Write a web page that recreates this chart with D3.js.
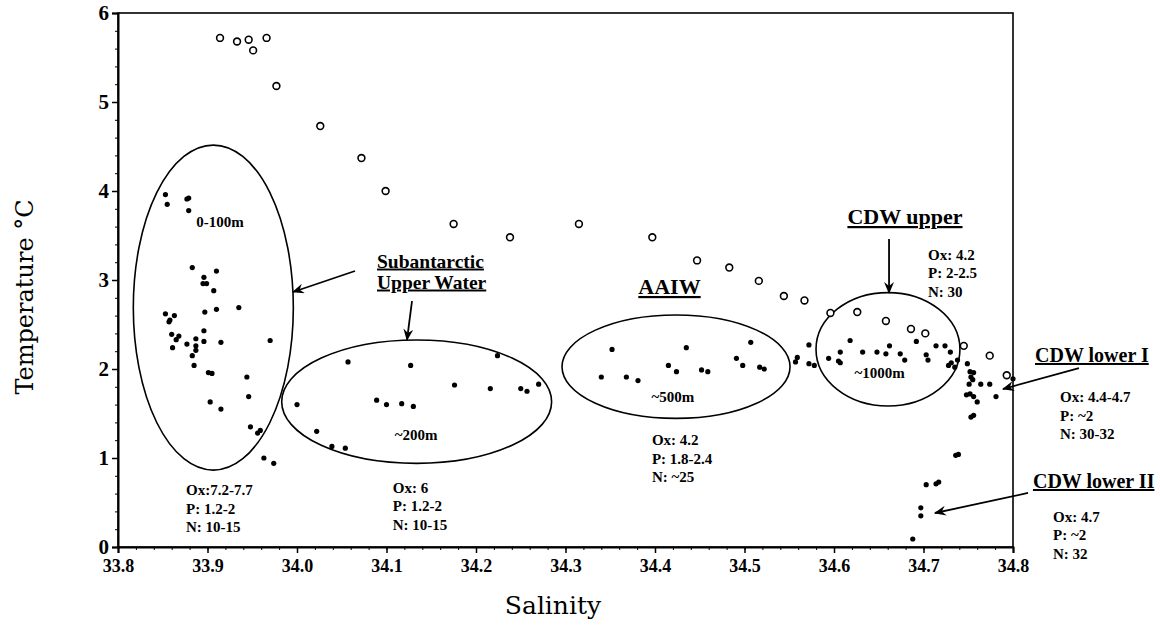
<!DOCTYPE html>
<html lang="en">
<head>
    <meta charset="UTF-8">
    <title>T-S diagram</title>
    <script src="https://d3js.org/d3.v7.min.js"></script>
    <style>
        body { margin: 0; background: #fff; }
        svg { display: block; }
        .tick text { font-family: "Liberation Serif", serif; font-weight: bold; fill: #000; }
        .axis path, .axis line { stroke: #000; }
        .axis-title { font-family: "DejaVu Serif", serif; font-size: 24px; fill: #000; }
        .mass-title { font-family: "Liberation Serif", serif; font-weight: bold; text-decoration: underline; fill: #000; }
        .note { font-family: "Liberation Serif", serif; font-weight: bold; font-size: 15px; fill: #000; }
        .ring { fill: none; stroke: #000; stroke-width: 1.6px; }
        .pointer { stroke: #000; stroke-width: 1.8px; }
    </style>
</head>
<body>
    <svg id="chart" width="1160" height="636"></svg>
    <script>
        // salinity, temperature pairs
        const openCircles = [
            [33.914, 5.72], [33.933, 5.68], [33.946, 5.70], [33.951, 5.58], [33.966, 5.72],
            [33.977, 5.18], [34.026, 4.73], [34.072, 4.37], [34.099, 4.00], [34.175, 3.63],
            [34.238, 3.48], [34.315, 3.63], [34.397, 3.48], [34.447, 3.22], [34.483, 3.14],
            [34.516, 2.99], [34.544, 2.82], [34.567, 2.77], [34.596, 2.63], [34.626, 2.64],
            [34.658, 2.54], [34.686, 2.45], [34.702, 2.40], [34.745, 2.26], [34.774, 2.15],
            [34.793, 1.93]
        ];
        const surfaceDots = [
            [33.853, 3.96], [33.855, 3.85], [33.877, 3.91], [33.879, 3.92], [33.879, 3.78],
            [33.883, 3.14], [33.896, 3.03], [33.910, 3.10], [33.895, 2.96], [33.899, 2.96],
            [33.907, 2.88], [33.910, 2.67], [33.935, 2.69], [33.897, 2.64], [33.853, 2.62],
            [33.863, 2.60], [33.858, 2.55], [33.857, 2.53], [33.860, 2.39], [33.868, 2.37],
            [33.865, 2.33], [33.861, 2.24], [33.877, 2.28], [33.887, 2.34], [33.896, 2.43],
            [33.896, 2.31], [33.887, 2.26], [33.887, 2.21], [33.915, 2.30], [33.970, 2.32],
            [33.883, 2.15], [33.885, 2.04], [33.901, 1.96], [33.905, 1.95], [33.944, 1.91],
            [33.946, 1.69], [33.903, 1.63], [33.915, 1.55], [33.948, 1.35], [33.956, 1.28],
            [33.959, 1.31], [33.963, 1.00], [33.974, 0.94]
        ];
        const subantarcticDots = [
            [34.000, 1.60], [34.022, 1.30], [34.039, 1.13], [34.054, 1.11], [34.057, 2.08],
            [34.127, 2.04], [34.224, 2.15], [34.089, 1.65], [34.100, 1.60], [34.117, 1.61],
            [34.130, 1.58], [34.176, 1.82], [34.216, 1.78], [34.250, 1.78], [34.257, 1.75],
            [34.270, 1.83]
        ];
        const aaiwDots = [
            [34.340, 1.91], [34.352, 2.22], [34.368, 1.91], [34.381, 1.87], [34.415, 2.04],
            [34.424, 1.97], [34.435, 2.24], [34.452, 1.99], [34.459, 1.97], [34.491, 2.12],
            [34.498, 2.04], [34.507, 2.30], [34.517, 2.02], [34.522, 2.00], [34.557, 2.08],
            [34.559, 2.13], [34.572, 2.27], [34.572, 2.06], [34.578, 2.04]
        ];
        const cdwUpperDots = [
            [34.594, 2.12], [34.605, 2.09], [34.607, 2.07], [34.607, 2.19], [34.618, 2.32],
            [34.632, 2.19], [34.648, 2.19], [34.658, 2.17], [34.662, 2.26], [34.674, 2.17],
            [34.679, 2.10], [34.692, 2.31], [34.703, 2.16], [34.705, 2.10], [34.714, 2.26],
            [34.724, 2.26], [34.730, 2.19], [34.728, 2.04], [34.731, 2.07], [34.735, 2.02],
            [34.738, 2.10]
        ];
        const cdwLower1Dots = [
            [34.749, 2.06], [34.752, 1.97], [34.756, 1.96], [34.753, 1.91], [34.755, 1.88],
            [34.751, 1.83], [34.764, 1.83], [34.774, 1.83], [34.748, 1.71], [34.752, 1.72],
            [34.756, 1.69], [34.760, 1.63], [34.781, 1.69], [34.753, 1.46], [34.756, 1.48],
            [34.800, 1.89]
        ];
        const cdwLower2Dots = [
            [34.736, 1.03], [34.739, 1.04], [34.703, 0.70], [34.714, 0.71], [34.717, 0.73],
            [34.697, 0.44], [34.697, 0.35], [34.688, 0.09]
        ];

        const xTicks = [33.8, 33.9, 34.0, 34.1, 34.2, 34.3, 34.4, 34.5, 34.6, 34.7, 34.8];
        const yTicks = [0, 1, 2, 3, 4, 5, 6];

        // water mass ellipses: centre (S, T) and half widths in S and T
        const rings = [
            { s: 33.9065, t: 2.69, rs: 0.0894, rt: 1.826 },
            { s: 34.1337, t: 1.633, rs: 0.1508, rt: 0.693 },
            { s: 34.4235, t: 2.026, rs: 0.1274, rt: 0.581 },
            { s: 34.6603, t: 2.221, rs: 0.0804, rt: 0.637 }
        ];
        const titles = [
            { s: 34.0894, t: 3.14, lines: ["Subantarctic", "Upper Water"], size: 19.5, anchor: "start" },
            { s: 34.4162, t: 2.843, lines: ["AAIW"], size: 22, anchor: "middle" },
            { s: 34.6793, t: 3.629, lines: ["CDW upper"], size: 22, anchor: "middle" },
            { s: 34.8246, t: 2.079, lines: ["CDW lower I"], size: 20, anchor: "start" },
            { s: 34.8223, t: 0.663, lines: ["CDW lower II"], size: 20, anchor: "start" }
        ];
        const depths = [
            { s: 33.914, t: 3.596, label: "0-100m" },
            { s: 34.133, t: 1.202, label: "~200m" },
            { s: 34.420, t: 1.629, label: "~500m" },
            { s: 34.651, t: 1.899, label: "~1000m" }
        ];
        const chemistry = [
            { s: 33.876, t: 0.584, lines: ["Ox:7.2-7.7", "P: 1.2-2", "N: 10-15"] },
            { s: 34.107, t: 0.607, lines: ["Ox: 6", "P: 1.2-2", "N: 10-15"] },
            { s: 34.3966, t: 1.146, lines: ["Ox: 4.2", "P: 1.8-2.4", "N: ~25"] },
            { s: 34.705, t: 3.225, lines: ["Ox: 4.2", "P: 2-2.5", "N: 30"] },
            { s: 34.8525, t: 1.629, lines: ["Ox: 4.4-4.7", "P: ~2", "N: 30-32"] },
            { s: 34.8447, t: 0.281, lines: ["Ox: 4.7", "P: ~2", "N: 32"] }
        ];
        const pointers = [
            [[34.0648, 3.101], [33.9955, 2.865]],
            [[34.1285, 2.764], [34.1229, 2.326]],
            [[34.6615, 3.461], [34.6615, 2.854]],
            [[34.8737, 2.011], [34.7888, 1.775]],
            [[34.8168, 0.607], [34.7128, 0.382]]
        ];

        const svg = d3.select("#chart");
        const plotLeft = 118, plotRight = 1013, plotTop = 13, plotBottom = 547;

        const x = d3.scaleLinear().domain([33.8, 34.8]).range([plotLeft, plotRight]);
        const y = d3.scaleLinear().domain([0, 6]).range([plotBottom, plotTop]);

        svg.append("defs").append("marker")
            .attr("id", "head")
            .attr("viewBox", "0 0 12 10")
            .attr("refX", 11).attr("refY", 5)
            .attr("markerWidth", 12).attr("markerHeight", 10)
            .attr("markerUnits", "userSpaceOnUse")
            .attr("orient", "auto")
            .append("path")
            .attr("d", "M0,0 L12,5 L0,10 L4,5 z")
            .attr("fill", "#000");

        // frame
        svg.append("rect")
            .attr("x", plotLeft).attr("y", plotTop)
            .attr("width", plotRight - plotLeft).attr("height", plotBottom - plotTop)
            .attr("fill", "none").attr("stroke", "#000").attr("stroke-width", 1.6);

        // minor ticks
        svg.append("g").attr("class", "axis")
            .attr("transform", `translate(0,${plotBottom})`)
            .call(d3.axisBottom(x).tickValues(d3.range(33.8, 34.801, 0.02)).tickSize(3).tickFormat(""))
            .call(g => g.select(".domain").remove());
        svg.append("g").attr("class", "axis")
            .attr("transform", `translate(${plotLeft},0)`)
            .call(d3.axisLeft(y).tickValues(d3.range(0, 6.01, 0.2)).tickSize(3).tickFormat(""))
            .call(g => g.select(".domain").remove());

        const xAxis = svg.append("g").attr("class", "axis")
            .attr("transform", `translate(0,${plotBottom})`)
            .call(d3.axisBottom(x).tickValues(xTicks).tickSize(6).tickPadding(6).tickFormat(d3.format(".1f")));
        xAxis.select(".domain").attr("stroke-width", 2);
        xAxis.selectAll(".tick line").attr("stroke-width", 1.5);
        xAxis.selectAll(".tick text").style("font-size", "18px");

        const yAxis = svg.append("g").attr("class", "axis")
            .attr("transform", `translate(${plotLeft},0)`)
            .call(d3.axisLeft(y).tickValues(yTicks).tickSize(6).tickPadding(3).tickFormat(d3.format("d")));
        yAxis.select(".domain").attr("stroke-width", 2);
        yAxis.selectAll(".tick line").attr("stroke-width", 1.5);
        yAxis.selectAll(".tick text").style("font-size", "21px");

        svg.append("text").attr("class", "axis-title")
            .attr("transform", `translate(33,297) rotate(-90)`)
            .attr("text-anchor", "middle")
            .text("Temperature °C");
        svg.append("text").attr("class", "axis-title")
            .attr("x", 553).attr("y", 614)
            .attr("text-anchor", "middle")
            .style("font-size", "25px")
            .text("Salinity");

        // ellipses
        svg.selectAll(".ring")
            .data(rings)
            .join("ellipse")
            .attr("class", "ring")
            .attr("cx", d => x(d.s))
            .attr("cy", d => y(d.t))
            .attr("rx", d => x(d.s + d.rs) - x(d.s))
            .attr("ry", d => y(d.t) - y(d.t + d.rt));

        // points
        const dots = [].concat(surfaceDots, subantarcticDots, aaiwDots, cdwUpperDots, cdwLower1Dots, cdwLower2Dots);
        svg.selectAll(".dot")
            .data(dots)
            .join("circle")
            .attr("class", "dot")
            .attr("cx", d => x(d[0]))
            .attr("cy", d => y(d[1]))
            .attr("r", 2.6)
            .attr("fill", "#000");

        svg.selectAll(".open")
            .data(openCircles)
            .join("circle")
            .attr("class", "open")
            .attr("cx", d => x(d[0]))
            .attr("cy", d => y(d[1]))
            .attr("r", 3.4)
            .attr("fill", "#fff")
            .attr("stroke", "#000")
            .attr("stroke-width", 1.6);

        // arrows
        svg.selectAll(".pointer")
            .data(pointers)
            .join("line")
            .attr("class", "pointer")
            .attr("x1", d => x(d[0][0])).attr("y1", d => y(d[0][1]))
            .attr("x2", d => x(d[1][0])).attr("y2", d => y(d[1][1]))
            .attr("marker-end", "url(#head)");

        // labels
        svg.selectAll(".mass-title")
            .data(titles)
            .join("text")
            .attr("class", "mass-title")
            .attr("x", d => x(d.s))
            .attr("y", d => y(d.t))
            .attr("text-anchor", d => d.anchor)
            .style("font-size", d => d.size + "px")
            .each(function(d) {
                d3.select(this).selectAll("tspan")
                    .data(d.lines)
                    .join("tspan")
                    .attr("x", x(d.s))
                    .attr("dy", (l, i) => i ? 21 : 0)
                    .text(l => l);
            });

        svg.selectAll(".depth")
            .data(depths)
            .join("text")
            .attr("class", "note depth")
            .attr("x", d => x(d.s))
            .attr("y", d => y(d.t))
            .attr("text-anchor", "middle")
            .text(d => d.label);

        svg.selectAll(".chem")
            .data(chemistry)
            .join("text")
            .attr("class", "note chem")
            .attr("x", d => x(d.s))
            .attr("y", d => y(d.t))
            .each(function(d) {
                d3.select(this).selectAll("tspan")
                    .data(d.lines)
                    .join("tspan")
                    .attr("x", x(d.s))
                    .attr("dy", (l, i) => i ? 18.5 : 0)
                    .text(l => l);
            });
    </script>
</body>
</html>
